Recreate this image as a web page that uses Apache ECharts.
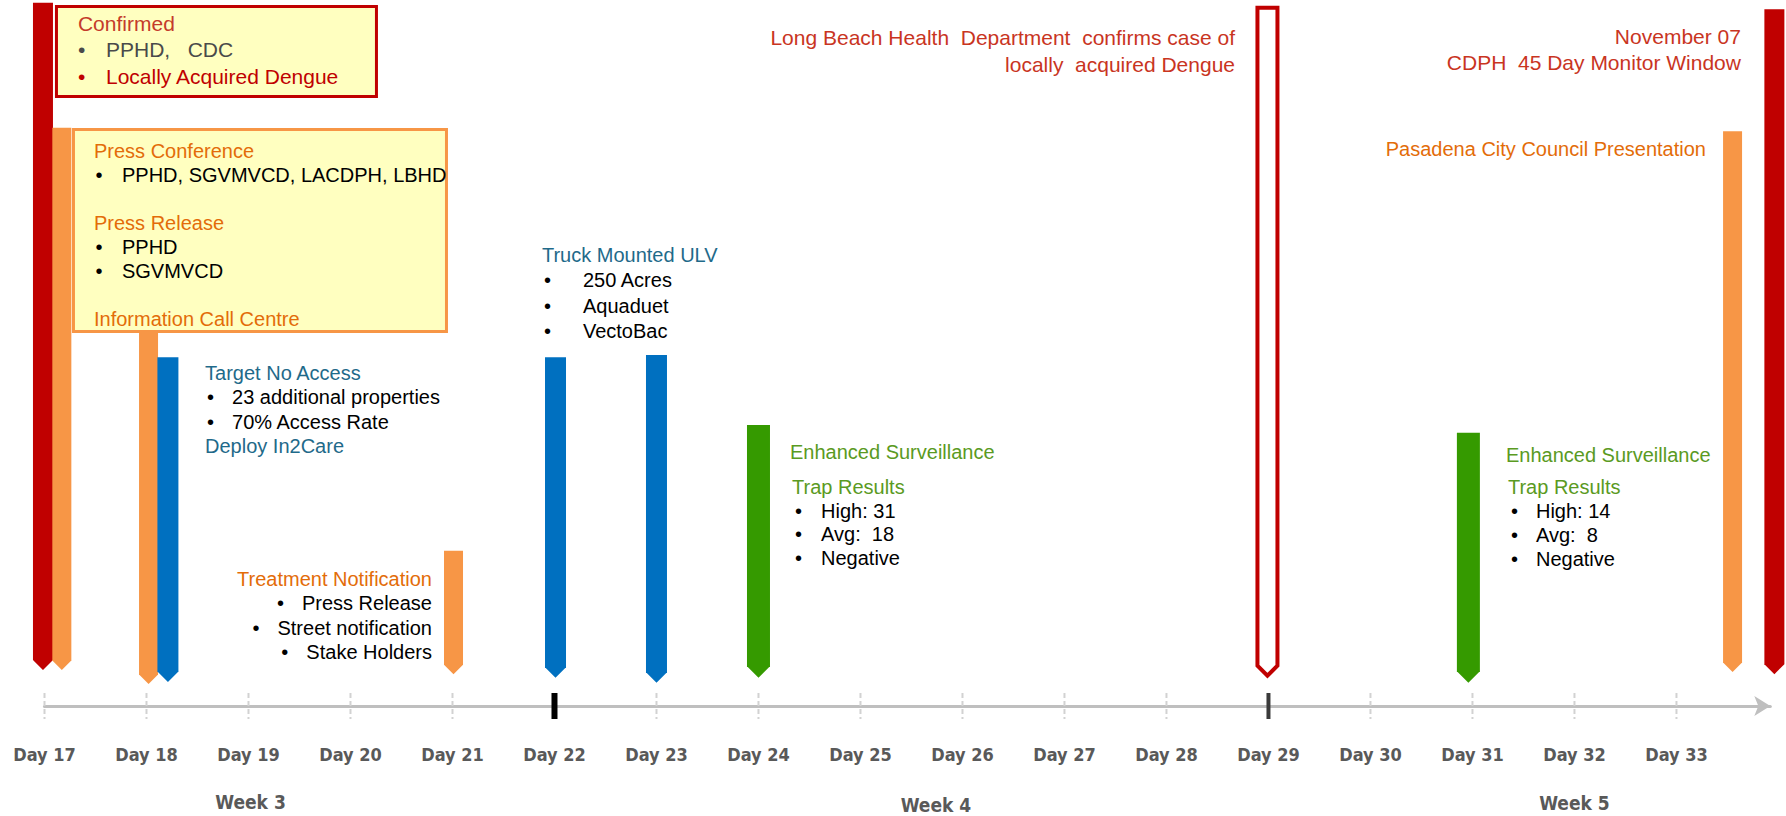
<!DOCTYPE html>
<html>
<head>
<meta charset="utf-8">
<script src="https://cdn.jsdelivr.net/npm/echarts@6/dist/echarts.min.js"></script>
<style>
  html, body { margin: 0; padding: 0; background: #ffffff; }
  #chart { width: 1786px; height: 816px; }
</style>
</head>
<body>
<div id="chart"></div>
<script>
// ================= DATA =================
// timeline ticks (days) and the days that start a new week
const dayTicks = [17, 18, 19, 20, 21, 22, 23, 24, 25, 26, 27, 28, 29, 30, 31, 32, 33];
const weekStartDays = [22, 29];

// week captions under the day labels (day position, level below the timeline)
const weekLabels = ['Week 3', 'Week 4', 'Week 5'];
const weekLabelDays = [19.02, 25.74, 32.0];
const weekLabelLevels = [-13.6, -14.0, -13.75];

// event markers: kind, day, top level, arrow-tip level
const eventKinds = ['confirm', 'comms', 'comms', 'treat', 'comms', 'treat', 'treat', 'surv', 'alert', 'surv', 'comms', 'confirm'];
const eventDays  = [16.985, 17.17, 18.02, 18.21, 21.01, 22.01, 23.0, 24.0, 28.99, 30.96, 33.55, 33.96];
const eventTops  = [99.6, 81.9, 53.3, 49.4, 22.0, 49.4, 49.7, 39.8, 98.9, 38.7, 81.4, 98.7];
const eventTips  = [5.1, 5.1, 3.1, 3.4, 4.5, 4.0, 3.3, 4.0, 4.3, 3.3, 4.8, 4.5];

// annotations: anchor day, anchor level (first line), text lines [lineKind, text]
const noteDays   = [17.328, 17.485, 18.574, 20.799, 21.877, 24.309, 24.329, 28.672, 33.632, 33.289, 31.328, 31.348];
const noteLevels = [96.74, 78.61, 47.17, 17.99, 63.88, 35.98, 31.02, 94.62, 94.76, 78.9, 35.55, 31.02];
const noteLines = [
  [['head', 'Confirmed'], ['bulletMuted', 'PPHD,   CDC'], ['bulletAlert', 'Locally Acquired Dengue']],
  [['head', 'Press Conference'], ['bullet', 'PPHD, SGVMVCD, LACDPH, LBHD'], ['blank', ''],
   ['head', 'Press Release'], ['bullet', 'PPHD'], ['bullet', 'SGVMVCD'], ['blank', ''],
   ['head', 'Information Call Centre']],
  [['head', 'Target No Access'], ['bullet', '23 additional properties'], ['bullet', '70% Access Rate'], ['head', 'Deploy In2Care']],
  [['head', 'Treatment Notification'], ['bullet', 'Press Release'], ['bullet', 'Street notification'], ['bullet', 'Stake Holders']],
  [['head', 'Truck Mounted ULV'], ['bullet', '250 Acres'], ['bullet', 'Aquaduet'], ['bullet', 'VectoBac']],
  [['head', 'Enhanced Surveillance']],
  [['head', 'Trap Results'], ['bullet', 'High: 31'], ['bullet', 'Avg:  18'], ['bullet', 'Negative']],
  [['head', 'Long Beach Health  Department  confirms case of'], ['head', 'locally  acquired Dengue']],
  [['head', 'November 07'], ['head', 'CDPH  45 Day Monitor Window']],
  [['head', 'Pasadena City Council Presentation']],
  [['head', 'Enhanced Surveillance']],
  [['head', 'Trap Results'], ['bullet', 'High: 14'], ['bullet', 'Avg:  8'], ['bullet', 'Negative']]
];

// ================= STYLE =================
const kindStyle = {
  confirm: { color: '#C00000', width: 20 },
  comms:   { color: '#F79646', width: 19 },
  treat:   { color: '#0070C0', width: 21 },
  surv:    { color: '#359A00', width: 23 },
  alert:   { color: '#C00000', width: 20, hollow: true }
};
const themeColor = { confirm: '#C43B2B', comms: '#E36C09', treat: '#1F6A8A', surv: '#5A9A22', news: '#C9351F' };
const lineColor = { bullet: '#000000', bulletMuted: '#4A4A4A', bulletAlert: '#C00000' };
const noteStyle = [
  { theme: 'confirm', align: 'left', size: 21, lh: 26.5, bx: 0, tx: 28, box: { dx: -21.5, dy: -16.5, w: 320, h: 90, stroke: '#C00000' } },
  { theme: 'comms', align: 'left', size: 20, lh: 24, bx: 1.5, tx: 28, box: { dx: -20.5, dy: -21.5, w: 373, h: 202, stroke: '#F79646' } },
  { theme: 'treat', align: 'left', size: 20, lh: 24.3, bx: 2, tx: 27 },
  { theme: 'comms', align: 'right', size: 20, lh: 24.3, gap: 25 },
  { theme: 'treat', align: 'left', size: 20, lh: 25.3, bx: 2, tx: 41 },
  { theme: 'surv', align: 'left', size: 20, lh: 24 },
  { theme: 'surv', align: 'left', size: 20, lh: 23.7, bx: 3, tx: 29 },
  { theme: 'news', align: 'right', size: 21, lh: 27 },
  { theme: 'news', align: 'right', size: 21, lh: 26 },
  { theme: 'comms', align: 'right', size: 20, lh: 24 },
  { theme: 'surv', align: 'left', size: 20, lh: 24 },
  { theme: 'surv', align: 'left', size: 20, lh: 24, bx: 3, tx: 28 }
];
const FONT_FAMILY = '"Liberation Sans", Arial, sans-serif';
const AXIS_FONT = '"DejaVu Sans Condensed", "DejaVu Sans", sans-serif';

const measureCtx = document.createElement('canvas').getContext('2d');
function measure(text, font) { measureCtx.font = font; return measureCtx.measureText(text).width; }
function textEl(x, y, text, fill, font, align) {
  return { type: 'text', x: x, y: y, style: { text: text, fill: fill, font: font, align: align, verticalAlign: 'middle' } };
}

function renderTick(params, api) {
  const d = api.value(0);
  const p = api.coord([d, 0]);
  const w = weekStartDays.indexOf(d);
  let style;
  if (w === 0) style = { stroke: '#000000', lineWidth: 6 };
  else if (w === 1) style = { stroke: '#3A3A3A', lineWidth: 4 };
  else style = { stroke: '#D2D2D2', lineWidth: 2, lineDash: [5, 3] };
  return { type: 'line', shape: { x1: p[0], y1: p[1] - 13, x2: p[0], y2: p[1] + 13 }, style: style };
}

function renderBar(params, api) {
  const st = kindStyle[eventKinds[params.dataIndex]];
  const top = api.coord([api.value(0), api.value(1)]);
  const tip = api.coord([api.value(0), api.value(2)]);
  const w = st.width, x = top[0];
  const pts = [[x - w / 2, top[1]], [x + w / 2, top[1]], [x + w / 2, tip[1] - w / 2], [x, tip[1]], [x - w / 2, tip[1] - w / 2]];
  return {
    type: 'polygon',
    shape: { points: pts },
    style: st.hollow ? { fill: '#ffffff', stroke: st.color, lineWidth: 4, lineJoin: 'miter' } : { fill: st.color }
  };
}

function renderNote(params, api) {
  const i = params.dataIndex;
  const st = noteStyle[i];
  const p = api.coord([api.value(0), api.value(1)]);
  const font = st.size + 'px ' + FONT_FAMILY;
  const children = [];
  if (st.box) {
    children.push({
      type: 'rect',
      shape: { x: p[0] + st.box.dx, y: p[1] + st.box.dy, width: st.box.w, height: st.box.h },
      style: { fill: '#FFFFC0', stroke: st.box.stroke, lineWidth: 3 }
    });
  }
  noteLines[i].forEach(function (ln, k) {
    const kind = ln[0], text = ln[1];
    if (kind === 'blank') return;
    const y = p[1] + k * st.lh;
    const isBullet = kind !== 'head';
    const c = isBullet ? lineColor[kind] : themeColor[st.theme];
    if (st.align === 'left') {
      if (isBullet) {
        children.push(textEl(p[0] + st.bx, y, '\u2022', c, font, 'left'));
        children.push(textEl(p[0] + st.tx, y, text, c, font, 'left'));
      } else {
        children.push(textEl(p[0], y, text, c, font, 'left'));
      }
    } else {
      children.push(textEl(p[0], y, text, c, font, 'right'));
      if (isBullet) {
        const w = measure(text, font);
        children.push(textEl(p[0] - w - st.gap, y, '\u2022', c, font, 'left'));
      }
    }
  });
  return { type: 'group', children: children };
}

function renderWeek(params, api) {
  const p = api.coord([api.value(0), api.value(1)]);
  return textEl(p[0], p[1], weekLabels[params.dataIndex], '#595959', 'bold 19px ' + AXIS_FONT, 'center');
}

const chart = echarts.init(document.getElementById('chart'), null, { renderer: 'svg', width: 1786, height: 816 });
chart.setOption({
  animation: false,
  backgroundColor: '#ffffff',
  grid: { left: 44.5, right: 15.7, top: 0, bottom: 110, containLabel: false, outerBoundsMode: 'none' },
  xAxis: {
    type: 'value',
    min: 17,
    max: 33.92,
    interval: 1,
    axisLine: {
      show: true, onZero: false,
      symbol: ['none', 'arrow'], symbolSize: [15, 16],
      lineStyle: { color: '#BFBFBF', width: 3 }
    },
    axisTick: { show: false },
    splitLine: { show: false },
    axisLabel: {
      margin: 39,
      color: '#595959',
      fontFamily: AXIS_FONT,
      fontWeight: 'bold',
      fontSize: 18,
      showMaxLabel: false,
      hideOverlap: false,
      formatter: function (v) { return Number.isInteger(v) ? 'Day ' + v : ''; }
    }
  },
  yAxis: { type: 'value', min: 0, max: 100, show: false, splitLine: { show: false } },
  series: [
    { type: 'custom', name: 'ticks', renderItem: renderTick, clip: false, silent: true,
      data: dayTicks.map(function (d) { return [d, 0]; }), z: 3 },
    { type: 'custom', name: 'events', renderItem: renderBar, clip: false, silent: true,
      data: eventDays.map(function (d, i) { return [d, eventTops[i], eventTips[i]]; }), z: 4 },
    { type: 'custom', name: 'notes', renderItem: renderNote, clip: false, silent: true,
      data: noteDays.map(function (d, i) { return [d, noteLevels[i]]; }), z: 5 },
    { type: 'custom', name: 'weeks', renderItem: renderWeek, clip: false, silent: true,
      data: weekLabelDays.map(function (d, i) { return [d, weekLabelLevels[i]]; }), z: 5 }
  ]
});
</script>
</body>
</html>
